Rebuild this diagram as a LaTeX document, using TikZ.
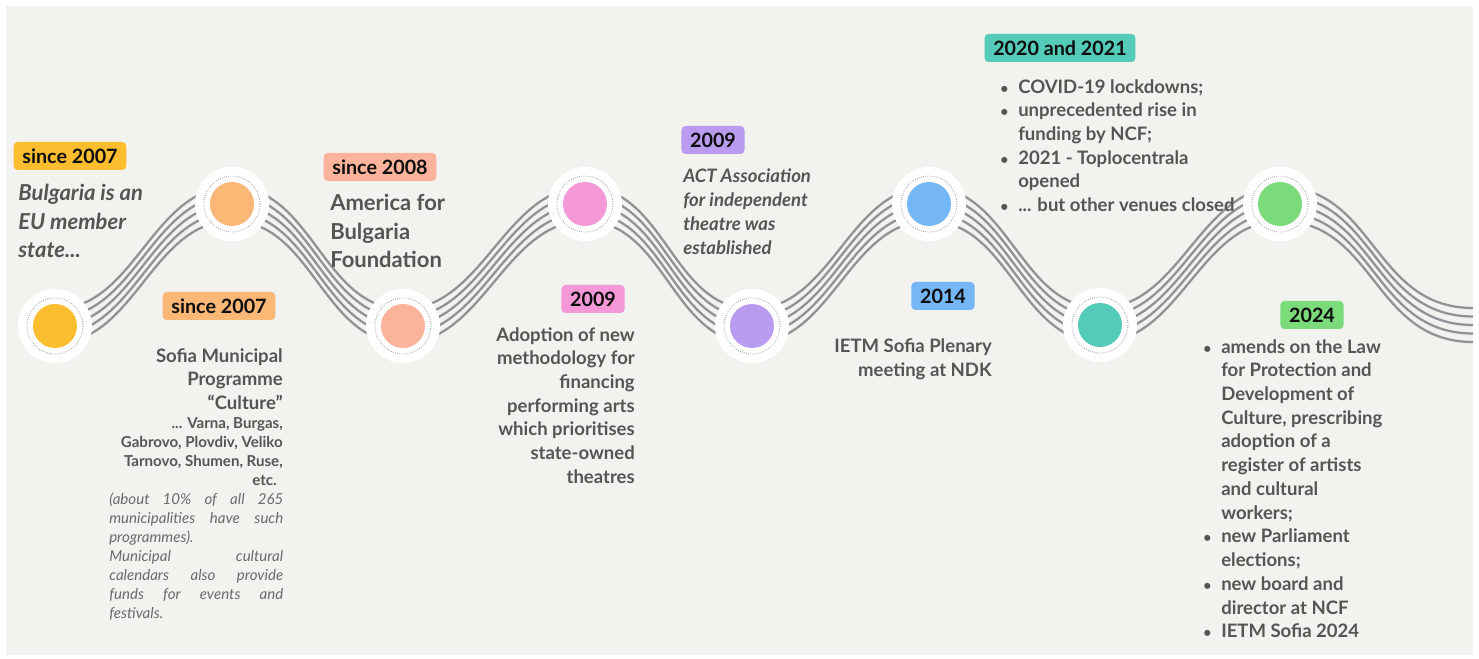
\documentclass[tikz,border=0pt]{standalone}
\usepackage{fontspec}
\setmainfont{Lato}
\usepackage{tikz}
\usetikzlibrary{positioning}

\definecolor{paper}{HTML}{F2F2EE}
\definecolor{inkgrey}{HTML}{555555}
\definecolor{softgrey}{HTML}{6A6A6A}
\definecolor{wavegrey}{HTML}{8F9396}
\definecolor{cyellow}{HTML}{FCBD2F}
\definecolor{corange}{HTML}{FBB776}
\definecolor{csalmon}{HTML}{FBB39B}
\definecolor{cpink}{HTML}{F498D8}
\definecolor{clilac}{HTML}{B99CF0}
\definecolor{cblue}{HTML}{74B6F6}
\definecolor{cteal}{HTML}{54CBB8}
\definecolor{cgreen}{HTML}{7BDB7B}

\newcommand{\tlbul}{\makebox[13.5pt][l]{\scalebox{0.75}{\textbullet}}}
\newcommand{\tlind}{\hspace*{13.5pt}}

\begin{document}
\begin{tikzpicture}[x=0.75pt,y=-0.75pt,
  waveline/.style={draw=wavegrey, line width=1.7pt},
  halo/.style={circle, fill=white, minimum size=55.5pt, inner sep=0pt,
    path picture={\draw[wavegrey, line width=0.6pt, dash pattern=on 0.5pt off 1.1pt]
      (path picture bounding box.center) circle[radius=21pt];}},
  disc/.style={circle, minimum size=33pt, inner sep=0pt},
  tag/.style={rounded corners=3pt, inner xsep=6.5pt, inner ysep=0pt, minimum height=21pt,
    text=black!95, font=\fontsize{14.8}{17}\selectfont\bfseries},
  big/.style={inner sep=0pt, text=inkgrey, font=\fontsize{16.5}{21.2}\selectfont\bfseries},
  bigit/.style={big, font=\fontsize{16.5}{21.2}\selectfont\bfseries\itshape},
  body/.style={inner sep=0pt, text=inkgrey, font=\fontsize{13.9}{17.8}\selectfont\bfseries},
  bodyit/.style={body, font=\fontsize{13.9}{17.8}\selectfont\bfseries\itshape},
  small/.style={inner sep=0pt, text=inkgrey, font=\fontsize{11.3}{14.4}\selectfont\bfseries},
  note/.style={inner sep=0pt, text=softgrey, font=\fontsize{11.3}{14.3}\selectfont\itshape}
]
\useasboundingbox (0,0) rectangle (1479,659);
\fill[white] (0,0) rectangle (1479,659);
\fill[paper] (6,6) rectangle (1473,655);

% stops on the wave
\coordinate (p1) at (55,326);
\coordinate (p2) at (232,204);
\coordinate (p3) at (403,326);
\coordinate (p4) at (585,204);
\coordinate (p5) at (752,326);
\coordinate (p6) at (929,204);
\coordinate (p7) at (1100,325);
\coordinate (p8) at (1280,204);
\coordinate (pend) at (1473,325);

% five strands of the wave
\foreach \s in {-12.75,-6.4,0,6.4,12.75}{
  \begin{scope}[transform canvas={yshift=\s pt}]
    \draw[waveline] (p1) .. controls +(80,0) and +(-80,0) .. (p2)
      .. controls +(80,0) and +(-80,0) .. (p3)
      .. controls +(80,0) and +(-80,0) .. (p4)
      .. controls +(80,0) and +(-80,0) .. (p5)
      .. controls +(80,0) and +(-80,0) .. (p6)
      .. controls +(80,0) and +(-80,0) .. (p7)
      .. controls +(80,0) and +(-80,0) .. (p8)
      .. controls +(95,0) and +(-100,0) .. (pend);
  \end{scope}
}

% milestones
\node[halo] (h1) at (p1) {};
\node[disc, fill=cyellow] (d1) at (p1) {};
\node[halo] (h2) at (p2) {};
\node[disc, fill=corange] (d2) at (p2) {};
\node[halo] (h3) at (p3) {};
\node[disc, fill=csalmon] (d3) at (p3) {};
\node[halo] (h4) at (p4) {};
\node[disc, fill=cpink] (d4) at (p4) {};
\node[halo] (h5) at (p5) {};
\node[disc, fill=clilac] (d5) at (p5) {};
\node[halo] (h6) at (p6) {};
\node[disc, fill=cblue] (d6) at (p6) {};
\node[halo] (h7) at (p7) {};
\node[disc, fill=cteal] (d7) at (p7) {};
\node[halo] (h8) at (p8) {};
\node[disc, fill=cgreen] (d8) at (p8) {};

% years
\node[tag, fill=cyellow] (t1) at (70,156) {since 2007};
\node[tag, fill=corange] (t2) at (219,306) {since 2007};
\node[tag, fill=csalmon] (t3) at (380,167) {since 2008};
\node[tag, fill=cpink] (t4) at (593,299) {2009};
\node[tag, fill=clilac] (t5) at (713,140) {2009};
\node[tag, fill=cblue] (t6) at (943,296) {2014};
\node[tag, fill=cteal] (t7) at (1060,48) {2020 and 2021};
\node[tag, fill=cgreen] (t8) at (1312,315) {2024};

% texts (anchored on the baseline of their last line)
\node[bigit, anchor=base west, align=left] (b1) at (18,257.5)
  {Bulgaria is an\\EU member\\state...};
\node[body, anchor=base east, align=right] (b2) at (283,409.5)
  {Sofia Municipal\\Programme\\“Culture”};
\node[small, anchor=base east, align=right] (b2s) at (283,485.6)
  {... Varna, Burgas,\\Gabrovo, Plovdiv, Veliko\\Tarnovo, Shumen, Ruse,\\etc.\hspace*{4.5pt}};
\node[note, anchor=base west, text width=130.5pt, align=justify] (b2n) at (109,504)
  {(about 10\% of all 265\linebreak municipalities have such\linebreak programmes).\par
   Municipal cultural\linebreak calendars also provide\linebreak funds for events and\linebreak festivals.};
\node[big, anchor=base west, align=left] (b3) at (330,267.5)
  {America for\\Bulgaria\\Foundation};
\node[body, anchor=base east, align=right] (b4) at (635,483.4)
  {Adoption of new\\methodology for\\financing\\performing arts\\which prioritises\\state-owned\\theatres};
\node[bodyit, anchor=base west, align=left] (b5) at (683,254.2)
  {ACT Association\\for independent\\theatre was\\established};
\node[body, anchor=base east, align=right] (b6) at (992,376.7)
  {IETM Sofia Plenary\\meeting at NDK};
\node[body, anchor=base west, align=left] (b7) at (1000,211.7)
  {\tlbul COVID-19 lockdowns;\\\tlbul unprecedented rise in\\\tlind funding by NCF;\\
   \tlbul 2021 - Toplocentrala\\\tlind opened\\\tlbul ... but other venues closed};
\node[body, anchor=base west, align=left] (b8) at (1203,637.8)
  {\tlbul amends on the Law\\\tlind for Protection and\\\tlind Development of\\
   \tlind Culture, prescribing\\\tlind adoption of a\\\tlind register of artists\\
   \tlind and cultural\\\tlind workers;\\\tlbul new Parliament\\\tlind elections;\\
   \tlbul new board and\\\tlind director at NCF\\\tlbul IETM Sofia 2024};
\end{tikzpicture}
\end{document}
